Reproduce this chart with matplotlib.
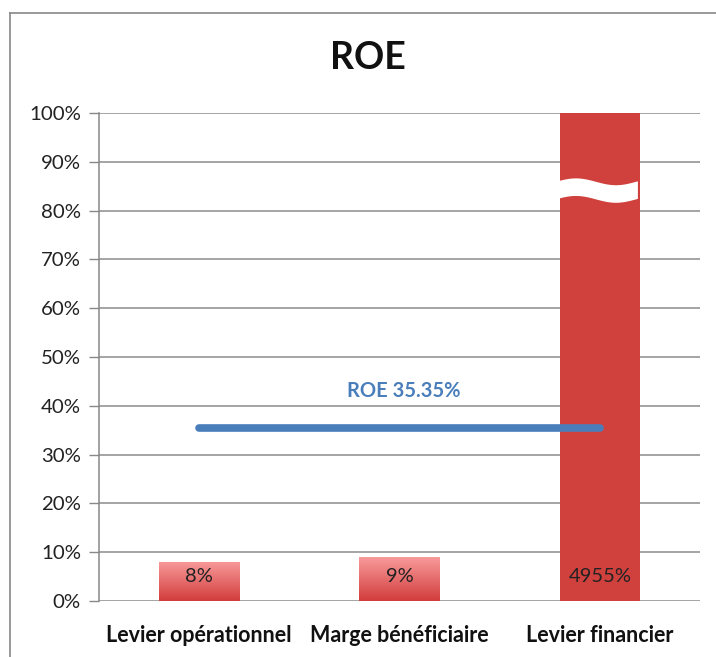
import numpy as np
import matplotlib
matplotlib.use("Agg")
import matplotlib.pyplot as plt
from matplotlib.patches import Polygon
from matplotlib.colors import LinearSegmentedColormap

categories = ["Levier opérationnel", "Marge bénéficiaire", "Levier financier"]
values = [8, 9, 4955]          # percent
value_labels = ["8%", "9%", "4955%"]
roe = 35.35
roe_label = "ROE 35.35%"
yticks = list(range(0, 101, 10))
ytick_labels = [f"{t}%" for t in yticks]
title = "ROE"

plt.rcParams['font.family'] = ['Lato', 'DejaVu Sans']

fig = plt.figure(figsize=(7.16, 6.57), dpi=100)
W, H = 716, 657
ax = fig.add_axes([99 / W, 1 - 601 / H, (700 - 99) / W, (601 - 113) / H])

# outer border
fig.add_artist(plt.Line2D([10 / W, 10 / W], [0, 1 - 13 / H], color="#888888", lw=1.2))
fig.add_artist(plt.Line2D([10 / W, 1], [1 - 13 / H, 1 - 13 / H], color="#888888", lw=1.2))

x = np.arange(len(categories))
ax.set_xlim(-0.5, 2.5)
ax.set_ylim(0, 100)

bars = ax.bar(x, values, width=0.4, color="#d0413d", zorder=2)

cmap = LinearSegmentedColormap.from_list("g", ["#d23c3c", "#f99b9b"])
grad = np.linspace(0, 1, 256).reshape(-1, 1)
for i, b in enumerate(bars):
    if i < 2:
        b.set_facecolor("none")
        x0, w, h = b.get_x(), b.get_width(), b.get_height()
        im = ax.imshow(grad, cmap=cmap, origin="lower", aspect="auto",
                       extent=[x0, x0 + w, 0, h], zorder=2)
        im.set_clip_path(b)

# break mark on the tall bar
b = bars[2]
x0, w = b.get_x(), b.get_width()
xs = np.linspace(x0, x0 + w * 0.975, 50)
t = (xs - x0) / w
wave = 0.7 * np.sin(2 * np.pi * t + 0.3)
top = 85.9 + wave
bot = 82.3 + wave
poly = np.vstack([np.column_stack([xs, top]), np.column_stack([xs[::-1], bot[::-1]])])
ax.add_patch(Polygon(poly, closed=True, facecolor="white", edgecolor="none", zorder=3))

# value labels
for i, b in enumerate(bars):
    ax.text(b.get_x() + b.get_width() / 2, 5.0, value_labels[i],
            ha="center", va="center", fontsize=14.5, color="#222222", zorder=4)

# ROE line
ax.plot([0, 2], [roe, roe], color="#4a7ebb", lw=5.5, solid_capstyle="round", zorder=4)
ax.text(1.02, roe + 7.6, roe_label, ha="center", va="center", fontsize=14.5,
        color="#4a7ebb", fontweight="bold", zorder=4)

ax.set_yticks(yticks)
ax.set_yticklabels(ytick_labels, fontsize=14.7, color="#222222")
ax.set_xticks(x)
ax.set_xticklabels(categories, fontsize=15.5, fontweight="bold", color="#111111")
ax.tick_params(axis="x", length=0, pad=17)
ax.tick_params(axis="y", length=7, width=1, color="#888888", pad=6)
ax.grid(axis="y", color="#8c8c8c", lw=1.1, zorder=0)
ax.set_axisbelow(True)
for s in ["top", "right", "bottom"]:
    ax.spines[s].set_visible(False)
ax.spines["left"].set_color("#888888")
ax.spines["left"].set_linewidth(1.1)

fig.text(368 / W, 1 - 58 / H, title, ha="center", va="center", fontsize=27,
         fontweight="bold", color="#111111")

fig.savefig("out.png", dpi=100)
